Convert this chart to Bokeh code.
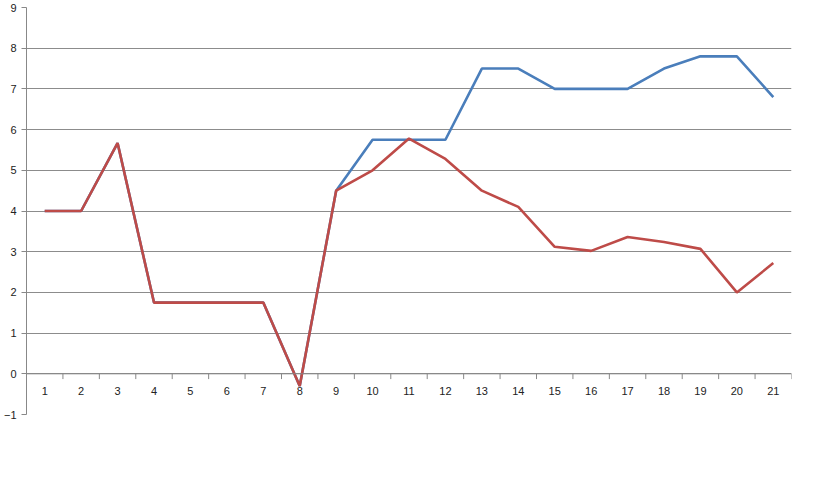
from bokeh.plotting import figure
from bokeh.models import Legend, LegendItem, Span, ColumnDataSource, FixedTicker
from bokeh.core.properties import value
from bokeh.embed import file_html
from bokeh.resources import INLINE

categories = list(range(1, 22))
observed = [4, 4, 5.67, 1.75, 1.75, 1.75, 1.75, -0.3, 4.5, 5.75, 5.75, 5.75,
            7.5, 7.5, 7, 7, 7, 7.5, 7.8, 7.8, 6.8]
estimated = [4, 4, 5.67, 1.75, 1.75, 1.75, 1.75, -0.3, 4.5, 5.0, 5.78, 5.28,
             4.5, 4.1, 3.12, 3.02, 3.36, 3.24, 3.07, 2.0, 2.72]
y_ticks = list(range(-1, 10))

p = figure(frame_width=765, frame_height=407, output_backend="svg", toolbar_location=None,
           x_range=(0.5, 21.5), y_range=(-1, 9),
           min_border_left=24, min_border_right=8, min_border_top=7, min_border_bottom=0)
p.outline_line_color = None
p.border_fill_color = "white"

p.xaxis.visible = False
p.xgrid.visible = False
p.yaxis.ticker = FixedTicker(ticks=y_ticks)
p.yaxis.axis_line_color = "#888888"
p.yaxis.major_tick_line_color = "#888888"
p.yaxis.major_tick_out = 5
p.yaxis.major_tick_in = 0
p.yaxis.minor_tick_line_color = None
p.yaxis.major_label_text_font = "Liberation Sans"
p.yaxis.major_label_text_font_size = "11px"
p.yaxis.major_label_text_color = "#222222"
p.ygrid.grid_line_color = "#8c8c8c"
p.ygrid.grid_line_width = 1

# category axis at zero
p.add_layout(Span(location=0, dimension="width", line_color="#888888", line_width=1))
bounds = [c - 0.5 for c in categories] + [categories[-1] + 0.5]
p.segment(x0=bounds, x1=bounds, y0=[0] * len(bounds), y1=[-0.13] * len(bounds),
          line_color="#888888", line_width=1)
lab = ColumnDataSource(dict(x=categories, y=[-0.42] * len(categories),
                            t=[str(c) for c in categories]))
p.text(x="x", y="y", text="t", source=lab, text_align="center",
       text_baseline="middle", text_font=value("Liberation Sans"),
       text_font_size="11px", text_color="#222222")

r1 = p.line(categories, observed, line_color="#4A7EBB", line_width=2.6)
r2 = p.line(categories, estimated, line_color="#BE4B48", line_width=2.6)

legend = Legend(items=[LegendItem(label="Observed Response Time", renderers=[r1]),
                       LegendItem(label="Estimated Response Time", renderers=[r2])],
                orientation="horizontal", location="center",
                label_text_font="Open Sans", label_text_font_style="bold",
                label_text_font_size="17px", label_text_color="#333333",
                glyph_width=28, spacing=40, border_line_color=None,
                margin=12, padding=2)
p.add_layout(legend, "below")

open("out.html", "w").write(file_html(p, INLINE))
